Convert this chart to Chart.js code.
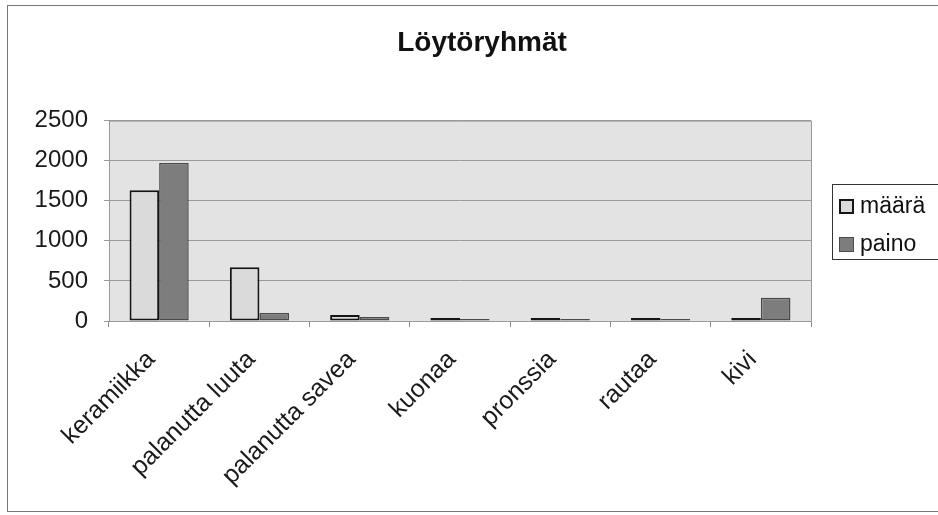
<!DOCTYPE html>
<html>
<head>
<meta charset="utf-8">
<script src="https://cdn.jsdelivr.net/npm/chart.js@4.4.0/dist/chart.umd.min.js"></script>
<style>
  html, body { margin: 0; padding: 0; background: #fff; }
  #wrap { position: relative; width: 938px; height: 515px; overflow: hidden; }
  #frame { position: absolute; left: 7px; top: 5px; width: 940px; height: 507px; border: 1px solid #777; box-sizing: border-box; }
  #legend { position: absolute; left: 832px; top: 184px; width: 120px; height: 76px; border: 1px solid #333; box-sizing: border-box;
            font-family: "Liberation Sans", Arial, sans-serif; font-size: 23px; color: #111; }
  .item { position: absolute; left: 6px; height: 26px; line-height: 26px; white-space: nowrap; }
  .sw { display: inline-block; width: 15px; height: 15px; vertical-align: -1px; margin-right: 6px; box-sizing: border-box; }
  canvas { position: absolute; left: 0; top: 0; }
</style>
</head>
<body>
<div id="wrap">
  <div id="frame"></div>
  <canvas id="chart" width="938" height="515"></canvas>
  <div id="legend"></div>
</div>
<script>
const categories = ["keramiikka", "palanutta luuta", "palanutta savea", "kuonaa", "pronssia", "rautaa", "kivi"];
const seriesNames = ["määrä", "paino"];
const maaraValues = [1630, 670, 75, 10, 5, 10, 5];
const painoValues = [1970, 100, 50, 20, 2, 15, 290];
const yTicks = [0, 500, 1000, 1500, 2000, 2500];

const maaraFill = "#dadada";
const maaraBorder = "#151515";
const painoFill = "#7d7d7d";
const painoBorder = "#4a4a4a";
const fontFamily = "'Liberation Sans', Arial, sans-serif";

// light grey plot area with a frame, like the old spreadsheet chart
const plotBackground = {
  id: "plotBackground",
  beforeDraw(chart) {
    const { ctx, chartArea } = chart;
    ctx.save();
    ctx.fillStyle = "#e3e3e3";
    ctx.fillRect(chartArea.left, chartArea.top, chartArea.right - chartArea.left, chartArea.bottom - chartArea.top);
    ctx.restore();
  },
  afterDatasetsDraw(chart) {
    const { ctx, chartArea } = chart;
    ctx.save();
    ctx.strokeStyle = "#9a9a9a";
    ctx.lineWidth = 1;
    ctx.strokeRect(chartArea.left + 0.5, chartArea.top + 0.5, chartArea.right - chartArea.left, chartArea.bottom - chartArea.top);
    ctx.restore();
  }
};

new Chart(document.getElementById("chart").getContext("2d"), {
  type: "bar",
  data: {
    labels: categories,
    datasets: [
      {
        label: seriesNames[0],
        data: maaraValues,
        backgroundColor: maaraFill,
        borderColor: maaraBorder,
        borderWidth: 2,
        borderSkipped: false,
        minBarLength: 3,
        categoryPercentage: 0.59,
        barPercentage: 1.0,
      },
      {
        label: seriesNames[1],
        data: painoValues,
        backgroundColor: painoFill,
        borderColor: painoBorder,
        borderWidth: 1.5,
        borderSkipped: false,
        minBarLength: 2,
        categoryPercentage: 0.59,
        barPercentage: 1.0,
      },
    ],
  },
  options: {
    responsive: false,
    animation: false,
    devicePixelRatio: 1,
    layout: { padding: { left: 26, right: 0, top: 0, bottom: 0 } },
    scales: {
      x: {
        grid: { offset: true, drawOnChartArea: false, drawTicks: true, tickLength: 6, color: "#8a8a8a" },
        border: { color: "#8a8a8a" },
        ticks: {
          minRotation: 45,
          maxRotation: 45,
          padding: 18,
          labelOffset: -8,
          color: "#1a1a1a",
          font: { family: fontFamily, size: 25 },
        },
        afterFit(scale) { scale.height = 194; },
      },
      y: {
        min: 0,
        max: 2500,
        afterBuildTicks(scale) { scale.ticks = yTicks.map((v) => ({ value: v })); },
        grid: { color: "#9a9a9a", tickLength: 5, drawTicks: true },
        border: { color: "#8a8a8a" },
        ticks: {
          padding: 16,
          color: "#1a1a1a",
          font: { family: fontFamily, size: 24 },
          callback: (v) => String(v),
        },
        afterFit(scale) { scale.width = 83; },
      },
      // empty space on the right where the legend box sits
      side: {
        type: "linear",
        position: "right",
        display: true,
        grid: { display: false },
        border: { display: false },
        ticks: { display: false },
        afterFit(scale) { scale.width = 127; },
      },
    },
    plugins: {
      legend: { display: false },
      tooltip: { enabled: false },
      title: {
        display: true,
        text: "Löytöryhmät",
        color: "#111",
        font: { family: fontFamily, size: 28, weight: "bold" },
        padding: { top: 26, bottom: 61 },
      },
    },
  },
  plugins: [plotBackground],
});

// legend box on the right
const legend = document.getElementById("legend");
const swatches = [
  { fill: maaraFill, border: maaraBorder, bw: 2 },
  { fill: painoFill, border: painoBorder, bw: 1 },
];
seriesNames.forEach((name, i) => {
  const item = document.createElement("div");
  item.className = "item";
  item.style.top = (i === 0 ? 7 : 45) + "px";
  const sw = document.createElement("span");
  sw.className = "sw";
  sw.style.background = swatches[i].fill;
  sw.style.border = swatches[i].bw + "px solid " + swatches[i].border;
  item.appendChild(sw);
  item.appendChild(document.createTextNode(name));
  legend.appendChild(item);
});
</script>
</body>
</html>
